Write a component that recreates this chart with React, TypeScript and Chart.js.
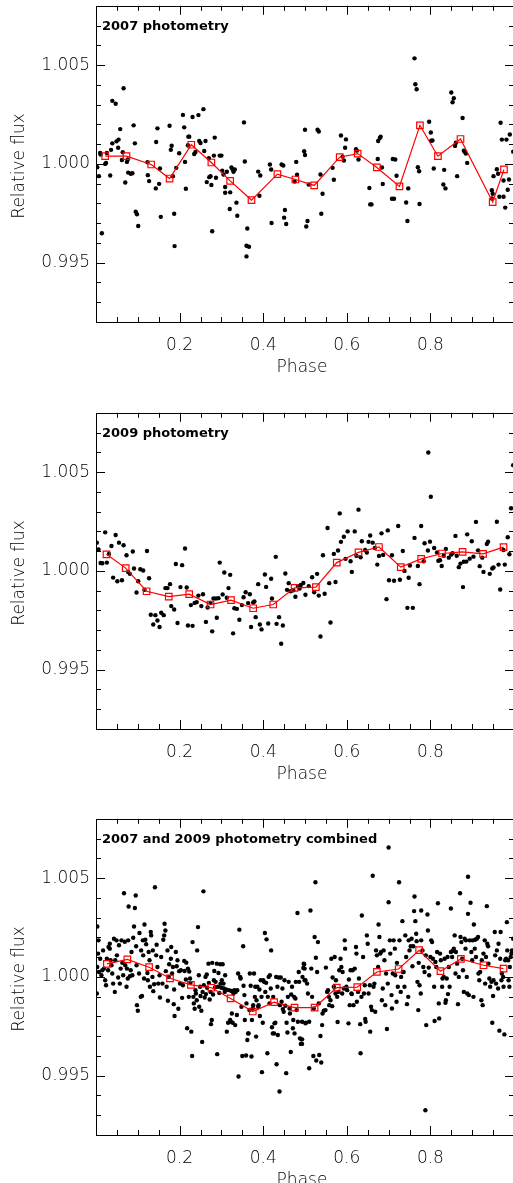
import React, { useEffect, useRef } from "react";
import { Chart, registerables } from "chart.js";

Chart.register(...registerables);

// ---------- data ----------
const phot2007: [number, number][] = [
[0.003,0.99983],[0.007,0.99938],[0.010,1.00055],[0.011,1.00047],[0.014,0.99649],[0.022,1.00000],[0.024,1.00005],[0.026,1.00055],[0.034,0.99941],[0.036,1.00071],[0.039,1.00104],[0.039,1.00319],[0.047,1.00304],[0.049,1.00114],[0.054,1.00123],[0.053,1.00082],[0.058,1.00176],[0.062,1.00020],[0.064,1.00059],[0.066,1.00383],[0.070,0.99906],[0.074,1.00010],[0.076,1.00022],[0.077,0.99956],[0.083,0.99950],[0.087,0.99953],[0.090,1.00195],[0.093,1.00104],[0.095,0.99758],[0.098,0.99745],[0.101,0.99686],[0.123,1.00008],[0.124,0.99943],[0.127,0.99913],[0.143,0.99876],[0.144,1.00111],[0.147,1.00180],[0.151,0.99899],[0.153,0.99977],[0.155,0.99732],[0.176,1.00193],[0.179,1.00071],[0.181,1.00092],[0.184,0.99938],[0.187,0.99748],[0.188,0.99584],[0.192,0.99980],[0.199,1.00054],[0.208,1.00248],[0.211,1.00185],[0.213,1.00010],[0.215,0.99874],[0.221,1.00138],[0.223,1.00138],[0.220,1.00094],[0.231,1.00237],[0.235,1.00050],[0.238,1.00060],[0.245,1.00247],[0.247,1.00116],[0.250,1.00106],[0.257,1.00277],[0.259,1.00065],[0.262,1.00116],[0.265,0.99908],[0.270,1.00029],[0.271,0.99933],[0.274,0.99938],[0.276,0.99893],[0.278,0.99659],[0.282,1.00042],[0.284,1.00133],[0.287,0.99930],[0.296,1.00042],[0.300,1.00042],[0.302,0.99966],[0.305,0.99946],[0.309,0.99883],[0.309,0.99854],[0.313,0.99960],[0.320,0.99772],[0.321,0.99856],[0.324,0.99982],[0.327,0.99972],[0.329,0.99960],[0.332,0.99972],[0.336,0.99804],[0.338,0.99738],[0.354,1.00210],[0.356,1.00012],[0.362,0.99673],[0.360,0.99586],[0.366,0.99581],[0.360,0.99532],[0.388,0.99961],[0.391,0.99839],[0.393,0.99941],[0.416,0.99997],[0.419,0.99972],[0.420,0.99701],[0.444,0.99997],[0.448,0.99992],[0.452,0.99767],[0.450,0.99728],[0.455,0.99696],[0.475,0.99911],[0.479,1.00010],[0.481,0.99945],[0.498,1.00064],[0.500,1.00045],[0.500,1.00173],[0.503,0.99683],
[0.506,0.99711],[0.509,0.99896],[0.530,1.00173],[0.533,1.00164],[0.537,0.99946],[0.539,0.99748],[0.542,0.99849],[0.566,0.99980],[0.569,0.99920],[0.586,1.00144],[0.590,1.00037],[0.593,1.00017],[0.596,1.00082],[0.598,1.00124],[0.622,1.00074],[0.624,1.00067],[0.628,1.00022],[0.654,0.99878],[0.656,0.99795],[0.659,0.99795],[0.674,1.00025],[0.675,1.00116],[0.679,1.00131],[0.681,1.00138],[0.684,0.99982],[0.686,0.99898],[0.710,1.00025],[0.716,1.00022],[0.708,0.99824],[0.713,0.99824],[0.719,0.99940],[0.742,0.99805],[0.745,0.99711],[0.747,0.99876],[0.762,1.00534],[0.764,1.00403],[0.767,1.00378],[0.770,0.99983],[0.773,0.99963],[0.774,0.99797],[0.797,1.00213],[0.801,1.00159],[0.802,1.00117],[0.805,1.00119],[0.808,0.99977],[0.831,0.99896],[0.836,0.99876],[0.833,0.99970],[0.850,1.00361],[0.856,1.00332],[0.853,1.00312],[0.859,1.00091],[0.861,1.00107],[0.864,0.99938],[0.877,1.00232],[0.880,1.00067],[0.883,1.00059],[0.885,1.00052],[0.888,1.00005],[0.947,0.99867],[0.949,0.99849],[0.947,0.99825],[0.951,0.99938],[0.959,0.99973],[0.962,0.99950],[0.965,0.99834],[0.975,0.99834],[0.968,1.00208],[0.971,1.00123],[0.975,0.99916],[0.979,0.99779],[0.982,1.00123],[0.985,0.99869],[0.988,0.99921],[0.990,1.00149],[0.998,1.00062]
];
const bins2007Phase = [0.022,0.073,0.132,0.176,0.228,0.276,0.321,0.372,0.434,0.477,0.522,0.583,0.626,0.672,0.726,0.775,0.818,0.872,0.949,0.976];
const bins2007Flux = [1.00039,1.00039,0.99997,0.99926,1.00097,1.00007,0.99914,0.99817,0.99948,0.99921,0.99891,1.00034,1.00052,0.99982,0.99886,1.00195,1.00039,1.00126,0.99807,0.99972];

const phot2009: [number, number][] = [
[0.002,1.00143],[0.006,1.00108],[0.011,1.00040],[0.015,1.00039],[0.022,1.00195],[0.026,1.00042],[0.031,1.00086],[0.037,1.00126],[0.041,0.99966],[0.047,1.00182],[0.051,0.99948],[0.055,1.00143],[0.062,0.99953],[0.066,1.00130],[0.073,1.00079],[0.077,0.99995],[0.081,0.99985],[0.088,1.00098],[0.091,1.00012],[0.097,0.99891],[0.101,0.99948],[0.106,1.00008],[0.113,1.00002],[0.116,0.99904],[0.122,1.00101],[0.127,0.99963],[0.131,0.99778],[0.137,0.99729],[0.142,0.99776],[0.147,0.99749],[0.152,0.99716],[0.156,0.99788],[0.162,0.99776],[0.166,0.99913],[0.171,0.99913],[0.177,0.99933],[0.180,0.99822],[0.187,0.99805],[0.191,1.00035],[0.195,0.99736],[0.206,1.00029],[0.202,0.99918],[0.213,1.00113],[0.217,0.99916],[0.220,0.99724],[0.227,0.99827],[0.231,0.99722],[0.236,0.99838],[0.241,0.99842],[0.245,0.99875],[0.252,0.99822],[0.256,0.99882],[0.263,0.99742],[0.267,0.99815],[0.274,0.99838],[0.278,0.99694],[0.281,0.99860],[0.287,0.99860],[0.293,0.99862],[0.289,0.99763],[0.296,1.00042],[0.303,0.99881],[0.307,0.99992],[0.313,0.99864],[0.317,0.99913],[0.321,0.99980],[0.328,0.99684],[0.331,0.99811],[0.337,0.99808],[0.343,0.99753],[0.349,0.99827],[0.353,0.99867],[0.358,0.99892],[0.364,0.99837],[0.368,0.99882],[0.371,0.99716],[0.376,0.99840],[0.379,0.99845],[0.382,0.99766],[0.388,0.99933],[0.392,0.99729],[0.396,0.99704],[0.404,0.99982],[0.407,0.99919],[0.412,0.99734],[0.419,0.99960],[0.421,0.99860],[0.430,1.00071],[0.432,0.99732],[0.438,0.99766],[0.443,0.99631],[0.447,0.99724],[0.453,0.99987],[0.457,0.99904],[0.461,0.99938],[0.466,0.99897],[0.472,0.99902],[0.477,0.99869],[0.483,0.99923],[0.487,0.99911],[0.490,0.99929],[0.496,0.99939],[0.501,0.99879],
[0.509,0.99923],[0.517,0.99968],[0.522,0.99892],[0.529,0.99985],[0.533,0.99875],[0.537,0.99668],[0.543,1.00079],[0.547,0.99884],[0.554,1.00217],[0.558,0.99938],[0.561,0.99739],[0.569,1.00086],[0.573,0.99944],[0.579,1.00103],[0.583,1.00291],[0.586,1.00147],[0.593,1.00173],[0.597,1.00061],[0.602,1.00200],[0.609,1.00049],[0.612,0.99995],[0.619,1.00200],[0.623,1.00077],[0.628,1.00310],[0.633,1.00069],[0.636,1.00150],[0.644,1.00106],[0.648,1.00093],[0.652,1.00147],[0.656,1.00179],[0.662,1.00143],[0.667,1.00116],[0.673,1.00032],[0.677,1.00076],[0.683,1.00190],[0.687,1.00081],[0.695,0.99857],[0.698,1.00205],[0.701,0.99953],[0.708,1.00079],[0.713,0.99950],[0.723,1.00227],[0.727,0.99955],[0.734,1.00101],[0.738,1.00000],[0.745,0.99813],[0.748,0.99965],[0.751,1.00027],[0.758,0.99813],[0.762,1.00167],[0.770,1.00025],[0.774,0.99933],[0.778,1.00227],[0.784,1.00049],[0.786,1.00140],[0.794,1.00103],[0.795,1.00599],[0.799,1.00148],[0.801,1.00375],[0.809,1.00116],[0.816,1.00093],[0.819,1.00051],[0.823,1.00054],[0.827,1.00025],[0.832,1.00077],[0.837,1.00111],[0.844,1.00067],[0.850,1.00083],[0.853,1.00089],[0.860,1.00177],[0.863,1.00077],[0.868,1.00019],[0.872,1.00037],[0.878,0.99918],[0.880,1.00046],[0.886,1.00047],[0.888,1.00185],[0.894,1.00062],[0.899,1.00150],[0.903,1.00072],[0.909,1.00248],[0.914,1.00104],[0.918,1.00024],[0.924,1.00067],[0.927,0.99995],[0.935,1.00136],[0.938,1.00148],[0.942,0.99985],[0.948,1.00012],[0.951,1.00017],[0.959,1.00249],[0.963,1.00032],[0.967,0.99906],[0.975,1.00106],[0.978,1.00032],[0.985,1.00170],[0.989,1.00084],[0.993,1.00317],[0.998,1.00535]
];
const bins2009Phase = [0.025,0.071,0.121,0.174,0.223,0.274,0.323,0.376,0.424,0.475,0.526,0.576,0.628,0.677,0.729,0.778,0.828,0.877,0.926,0.975];
const bins2009Flux = [1.00084,1.00014,0.99897,0.99870,0.99882,0.99830,0.99852,0.99811,0.99830,0.99914,0.99918,1.00042,1.00094,1.00121,1.00019,1.00061,1.00088,1.00096,1.00086,1.00120];

const photCombined: [number, number][] = [
[0.003,1.00255],[0.006,1.00185],[0.005,1.00118],[0.003,1.00050],[0.007,1.00025],[0.002,0.99916],[0.010,1.00092],[0.013,1.00008],[0.015,1.00034],[0.017,1.00134],[0.019,1.00042],[0.022,0.99983],[0.024,0.99958],[0.026,1.00092],[0.029,1.00034],[0.030,1.00151],[0.033,1.00168],[0.033,1.00143],[0.035,1.00084],[0.037,1.00059],[0.039,1.00017],[0.041,0.99966],[0.043,1.00193],[0.045,0.99924],[0.046,1.00084],[0.049,1.00185],[0.050,1.00109],[0.053,0.99997],[0.055,1.00160],[0.057,0.99966],[0.059,1.00042],[0.061,1.00185],[0.063,1.00071],[0.065,1.00008],[0.067,1.00423],[0.069,1.00178],[0.070,1.00059],[0.073,0.99950],[0.074,1.00042],[0.076,0.99992],[0.077,1.00185],[0.078,1.00356],[0.081,1.00003],[0.083,1.00034],[0.085,1.00126],[0.087,1.00008],[0.089,1.00198],[0.091,1.00255],[0.093,1.00349],[0.095,1.00412],[0.096,1.00155],[0.097,1.00059],[0.098,0.99857],[0.100,0.99829],[0.103,1.00017],[0.104,1.00222],[0.107,0.99899],[0.108,1.00134],[0.110,0.99903],[0.112,1.00185],[0.113,1.00109],[0.115,0.99992],[0.116,1.00265],[0.118,1.00188],[0.120,1.00165],[0.123,1.00020],[0.124,0.99983],[0.126,1.00126],[0.128,1.00084],[0.129,0.99950],[0.131,1.00227],[0.132,1.00210],[0.135,1.00000],[0.136,1.00134],[0.137,0.99928],[0.139,0.99963],[0.141,1.00454],[0.144,1.00109],[0.145,1.00163],[0.147,1.00050],[0.149,0.99966],[0.152,1.00008],[0.153,0.99896],[0.156,1.00101],[0.159,0.99966],[0.161,1.00188],[0.163,1.00210],[0.164,1.00269],[0.166,1.00235],[0.167,1.00029],[0.169,0.99950],[0.171,1.00134],[0.172,0.99879],[0.174,1.00000],[0.175,1.00064],[0.179,1.00092],[0.180,1.00151],[0.182,1.00017],[0.184,1.00050],[0.186,0.99862],[0.187,0.99936],[0.188,0.99802],[0.191,1.00126],[0.193,1.00054],[0.195,1.00084],[0.197,0.99839],[0.199,1.00029],[0.201,0.99966],[0.203,1.00034],[0.206,0.99894],[0.208,0.99958],[0.211,1.00081],[0.212,1.00030],[0.215,0.99987],[0.216,1.00072],[0.218,0.99740],[0.220,1.00042],[0.222,0.99899],[0.223,1.00027],[0.225,0.99992],[0.226,0.99970],[0.228,0.99723],[0.230,0.99600],[0.231,1.00176],[0.233,0.99899],[0.234,0.99866],[0.236,0.99839],[0.238,0.99933],[0.239,0.99916],[0.241,0.99882],[0.242,1.00134],[0.244,1.00252],[0.246,1.00008],[0.247,0.99849],[0.249,0.99950],[0.250,0.99903],[0.252,0.99829],[0.254,0.99671],[0.255,0.99924],[0.257,1.00433],[0.258,0.99958],[0.260,0.99896],[0.262,1.00000],[0.263,0.99913],[0.265,1.00012],[0.266,0.99945],[0.269,1.00067],[0.270,0.99970],[0.272,0.99886],[0.274,0.99924],[0.275,0.99761],[0.277,0.99782],[0.278,1.00071],[0.280,0.99911],[0.282,0.99983],[0.283,1.00030],[0.285,0.99948],[0.286,0.99975],[0.289,1.00067],[0.290,0.99609],[0.292,0.99950],[0.293,1.00020],[0.295,0.99919],[0.297,1.00064],[0.298,0.99966],[0.300,0.99945],[0.301,0.99983],[0.303,1.00064],[0.305,0.99966],[0.306,0.99941],[0.308,0.99924],[0.309,1.00008],[0.311,0.99936],[0.313,0.99723],[0.316,0.99768],[0.318,0.99933],[0.321,0.99782],[0.322,0.99773],[0.324,0.99929],[0.325,0.99815],[0.327,0.99768],[0.329,0.99916],[0.331,0.99933],[0.333,0.99756],[0.334,0.99924],[0.337,0.99807],[0.338,0.99933],[0.340,1.00017],[0.341,0.99496],[0.343,1.00239],[0.345,1.00000],[0.346,0.99992],[0.348,0.99849],[0.350,0.99600],[0.352,1.00155],[0.353,0.99955],[0.355,0.99908],[0.356,0.99782],[0.359,0.99602],[0.360,0.99866],[0.362,0.99681],[0.364,0.99714],[0.365,0.99714],[0.367,0.99832],[0.368,1.00017],[0.370,0.99955],[0.372,0.99597],[0.373,0.99782],[0.375,0.99840],[0.376,0.99857],[0.378,1.00017],[0.380,0.99899],[0.381,0.99950],[0.383,0.99698],[0.384,0.99882],[0.386,0.99950],[0.388,0.99849],[0.389,0.99857],[0.391,0.99936],[0.392,0.99802],[0.394,0.99983],[0.396,0.99899],[0.397,0.99518],[0.399,0.99768],[0.400,0.99983],[0.402,0.99975],[0.404,1.00222],[0.405,0.99924],[0.407,0.99970],[0.408,1.00190],[0.410,0.99614],[0.411,0.99899],[0.413,1.00000],[0.415,0.99866],[0.416,1.00008],[0.418,0.99941],[0.419,1.00134],[0.421,0.99745],[0.423,0.99714],[0.424,0.99899],[0.426,0.99714],[0.427,0.99765],[0.429,0.99768],[0.431,1.00000],[0.432,0.99558],[0.434,0.99950],[0.435,0.99706],[0.437,0.99997],[0.439,0.99420],[0.440,0.99857],[0.442,0.99997],[0.444,0.99874],[0.446,0.99941],[0.447,0.99837],[0.449,0.99824],[0.451,0.99983],[0.453,0.99854],[0.455,0.99513],[0.456,0.99768],[0.458,0.99719],[0.459,0.99899],[0.461,0.99975],[0.463,0.99840],[0.464,0.99815],[0.466,0.99620],[0.467,0.99911],[0.469,0.99950],[0.471,0.99740],[0.472,0.99782],[0.474,0.99899],[0.475,0.99714],[0.477,0.99891],[0.478,0.99975],[0.480,0.99832],[0.482,1.00323],[0.483,0.99773],[0.485,1.00025],[0.486,0.99975],[0.488,0.99689],[0.490,0.99661],[0.491,0.99684],[0.493,0.99773],[0.494,1.00000],[0.496,1.00045],[0.498,1.00064],[0.499,0.99983],[0.501,0.99765],
[0.493,0.99684],[0.493,0.99661],[0.497,1.00067],[0.499,1.00042],[0.501,0.99983],[0.502,0.99768],[0.505,0.99966],[0.507,0.99916],[0.510,0.99773],[0.513,1.00336],[0.515,1.00042],[0.517,0.99899],[0.520,0.99600],[0.521,0.99840],[0.525,1.00479],[0.523,1.00202],[0.526,1.00097],[0.529,1.00025],[0.531,1.00176],[0.533,0.99866],[0.534,0.99605],[0.537,0.99701],[0.539,0.99567],[0.541,0.99756],[0.510,0.99538],[0.527,0.99577],[0.542,0.99815],[0.545,0.99829],[0.549,0.99832],[0.550,1.00047],[0.553,0.99924],[0.555,0.99933],[0.557,0.99899],[0.558,0.99857],[0.561,0.99882],[0.563,1.00092],[0.565,0.99852],[0.566,0.99997],[0.569,0.99950],[0.571,1.00101],[0.573,0.99916],[0.574,0.99983],[0.577,0.99899],[0.578,0.99772],[0.580,0.99924],[0.582,1.00034],[0.585,1.00092],[0.587,1.00050],[0.589,0.99916],[0.590,1.00025],[0.593,0.99941],[0.595,1.00185],[0.596,1.00143],[0.599,0.99950],[0.601,0.99933],[0.604,0.99765],[0.605,0.99987],[0.607,0.99857],[0.609,1.00034],[0.611,0.99916],[0.612,0.99913],[0.614,1.00034],[0.616,0.99857],[0.619,1.00042],[0.622,1.00151],[0.623,1.00118],[0.624,0.99874],[0.627,0.99924],[0.629,0.99992],[0.632,0.99761],[0.633,0.99614],[0.635,0.99899],[0.636,1.00311],[0.639,1.00101],[0.641,0.99916],[0.643,0.99958],[0.644,0.99787],[0.645,0.99773],[0.648,1.00210],[0.650,1.00168],[0.652,0.99916],[0.655,0.99958],[0.656,0.99723],[0.658,0.99849],[0.660,0.99832],[0.662,1.00512],[0.664,0.99950],[0.666,0.99966],[0.668,0.99824],[0.670,1.00134],[0.672,1.00109],[0.675,1.00050],[0.676,1.00265],[0.678,1.00202],[0.680,1.00118],[0.682,1.00126],[0.684,0.99882],[0.686,0.99941],[0.688,1.00134],[0.690,1.00084],[0.692,0.99857],[0.694,1.00017],[0.696,0.99736],[0.698,0.99966],[0.700,1.00378],[0.700,1.00655],[0.703,1.00185],[0.704,1.00118],[0.707,0.99908],[0.708,0.99840],[0.710,1.00017],[0.712,1.00185],[0.715,1.00143],[0.716,1.00008],[0.719,0.99874],[0.720,1.00071],[0.722,0.99950],[0.725,1.00479],[0.726,1.00185],[0.729,0.99924],[0.730,1.00000],[0.733,1.00282],[0.734,1.00025],[0.736,1.00025],[0.738,0.99950],[0.740,1.00210],[0.742,1.00101],[0.744,0.99862],[0.747,0.99899],[0.748,1.00185],[0.750,1.00134],[0.753,1.00155],[0.755,1.00193],[0.757,1.00054],[0.759,1.00155],[0.761,1.00333],[0.762,1.00407],[0.764,1.00282],[0.766,1.00218],[0.767,1.00181],[0.769,0.99975],[0.771,0.99832],[0.772,1.00071],[0.774,0.99958],[0.777,0.99916],[0.778,1.00336],[0.778,1.00185],[0.781,1.00134],[0.783,1.00050],[0.786,1.00025],[0.788,0.99325],[0.789,1.00109],[0.790,0.99756],[0.793,1.00316],[0.794,1.00235],[0.796,1.00047],[0.797,1.00008],[0.800,1.00101],[0.802,1.00185],[0.804,1.00176],[0.806,1.00092],[0.809,0.99950],[0.810,0.99777],[0.812,1.00076],[0.814,1.00050],[0.816,1.00126],[0.818,1.00373],[0.820,0.99866],[0.821,0.99790],[0.823,1.00118],[0.825,1.00084],[0.828,0.99950],[0.829,0.99992],[0.832,1.00000],[0.834,1.00092],[0.836,0.99869],[0.837,0.99882],[0.839,0.99992],[0.841,1.00101],[0.842,0.99913],[0.844,1.00050],[0.846,0.99950],[0.849,1.00126],[0.849,1.00346],[0.852,1.00101],[0.853,1.00131],[0.856,1.00143],[0.858,1.00210],[0.860,1.00017],[0.861,1.00126],[0.864,1.00067],[0.866,0.99862],[0.868,1.00000],[0.871,1.00423],[0.872,1.00202],[0.874,1.00176],[0.876,1.00092],[0.878,1.00034],[0.880,0.99924],[0.882,1.00193],[0.884,1.00143],[0.885,1.00185],[0.887,1.00000],[0.888,0.99916],[0.890,1.00319],[0.890,1.00507],[0.892,0.99908],[0.894,1.00185],[0.896,1.00375],[0.898,1.00126],[0.900,1.00084],[0.901,1.00185],[0.903,0.99899],[0.904,1.00265],[0.906,1.00143],[0.907,1.00188],[0.909,1.00101],[0.911,1.00193],[0.914,1.00202],[0.915,1.00017],[0.917,0.99983],[0.919,1.00025],[0.922,0.99882],[0.923,1.00084],[0.925,0.99857],[0.927,1.00118],[0.930,1.00185],[0.931,0.99966],[0.933,1.00101],[0.935,1.00358],[0.936,1.00168],[0.938,1.00155],[0.939,1.00067],[0.941,0.99992],[0.943,0.99950],[0.946,0.99975],[0.948,0.99768],[0.950,0.99903],[0.951,0.99983],[0.954,1.00227],[0.955,1.00109],[0.957,0.99966],[0.959,1.00134],[0.962,0.99941],[0.963,1.00168],[0.965,0.99728],[0.967,1.00092],[0.968,1.00227],[0.970,0.99983],[0.971,1.00017],[0.974,1.00000],[0.975,0.99950],[0.977,0.99709],[0.979,1.00084],[0.981,1.00092],[0.983,1.00277],[0.984,1.00134],[0.986,1.00084],[0.987,0.99983],[0.989,0.99950],[0.990,1.00050],[0.992,1.00101],[0.994,1.00118],[0.995,1.00134],[0.998,1.00193]
];
const binsCombPhase = [0.026,0.075,0.127,0.177,0.227,0.276,0.322,0.375,0.426,0.475,0.523,0.576,0.625,0.672,0.724,0.773,0.824,0.873,0.927,0.975];
const binsCombFlux = [1.00066,1.00089,1.00049,0.99993,0.99960,0.99945,0.99891,0.99825,0.99872,0.99845,0.99845,0.99946,0.99948,1.00025,1.00040,1.00135,1.00029,1.00091,1.00059,1.00042];

const panelTitles = ["2007 photometry", "2009 photometry", "2007 and 2009 photometry combined"];
const phaseTickLabels = ["0.2", "0.4", "0.6", "0.8"];
const fluxTickLabels = ["0.995", "1.000", "1.005"];
const xAxisTitle = "Phase";
const yAxisTitle = "Relative flux";

// ---------- layout ----------
const CANVAS_W = 520;
const CANVAS_H = 400;
const PAD = { left: 96, right: 6, top: 5, bottom: 78 };
const panelTops = [0, 407, 813];
const FONT = "'DejaVu Sans', 'Liberation Sans', sans-serif";

const framePlugin = {
  id: "idlFrame",
  afterDraw(chart: any, _args: any, opts: any) {
    const { ctx, chartArea: a, scales } = chart;
    const xs = scales.x;
    const ys = scales.y;
    ctx.save();
    ctx.strokeStyle = "#000";
    ctx.lineWidth = 1;
    ctx.strokeRect(Math.round(a.left) + 0.5, Math.round(a.top) + 0.5, Math.round(a.right - a.left), Math.round(a.bottom - a.top));
    ctx.beginPath();
    for (let i = 1; i < 20; i++) {
      const v = i * 0.05;
      const major = i % 4 === 0;
      const len = major ? 9 : 5;
      const px = Math.round(xs.getPixelForValue(v)) + 0.5;
      ctx.moveTo(px, a.bottom);
      ctx.lineTo(px, a.bottom - len);
      ctx.moveTo(px, a.top);
      ctx.lineTo(px, a.top + len);
    }
    for (let k = 993; k <= 1007; k++) {
      const v = k / 1000;
      const major = k % 5 === 0;
      const len = major ? 9 : 5;
      const py = Math.round(ys.getPixelForValue(v)) + 0.5;
      ctx.moveTo(a.left, py);
      ctx.lineTo(a.left + len, py);
      ctx.moveTo(a.right, py);
      ctx.lineTo(a.right - len, py);
    }
    ctx.stroke();

    ctx.fillStyle = "#000";
    ctx.font = `200 17px ${FONT}`;
    ctx.textAlign = "center";
    ctx.textBaseline = "alphabetic";
    phaseTickLabels.forEach((t) => {
      ctx.fillText(t, xs.getPixelForValue(parseFloat(t)), a.bottom + 28);
    });
    ctx.textAlign = "right";
    ctx.textBaseline = "middle";
    fluxTickLabels.forEach((t) => {
      ctx.fillText(t, a.left - 6, ys.getPixelForValue(parseFloat(t)));
    });
    ctx.textAlign = "center";
    ctx.textBaseline = "alphabetic";
    ctx.fillText(xAxisTitle, (a.left + a.right) / 2 - 3, a.bottom + 50);
    ctx.save();
    ctx.translate(24, (a.top + a.bottom) / 2 + 2);
    ctx.rotate(-Math.PI / 2);
    ctx.fillText(yAxisTitle, 0, 0);
    ctx.restore();
    ctx.fillStyle = "#000";
    ctx.font = `bold 13px ${FONT}`;
    ctx.textAlign = "left";
    ctx.fillText(opts.title, a.left + 6, a.top + 24);
    ctx.restore();
  },
};

function Panel({ points, binPhase, binFlux, title, top }: { points: [number, number][]; binPhase: number[]; binFlux: number[]; title: string; top: number }) {
  const ref = useRef<HTMLCanvasElement>(null);
  useEffect(() => {
    if (!ref.current) return;
    const chart = new Chart(ref.current, {
      type: "scatter",
      data: {
        datasets: [
          {
            type: "line",
            data: binPhase.map((p, i) => ({ x: p, y: binFlux[i] })),
            borderColor: "#ff0000",
            borderWidth: 1.2,
            pointStyle: "rect",
            pointRadius: 4.6,
            pointBorderColor: "#ff0000",
            pointBackgroundColor: "rgba(255,255,255,0)",
            pointBorderWidth: 1.2,
            tension: 0,
            fill: false,
            order: 1,
          } as any,
          {
            type: "scatter",
            data: points.map(([x, y]) => ({ x, y })),
            pointRadius: 2.2,
            pointBackgroundColor: "#000",
            pointBorderWidth: 0,
            order: 2,
          } as any,
        ],
      },
      options: {
        animation: false,
        responsive: false,
        maintainAspectRatio: false,
        events: [],
        layout: { padding: PAD },
        scales: {
          x: { type: "linear", min: 0, max: 1, display: false },
          y: { type: "linear", min: 0.992, max: 1.008, display: false },
        },
        plugins: {
          legend: { display: false },
          tooltip: { enabled: false },
          idlFrame: { title },
        } as any,
      },
      plugins: [framePlugin],
    });
    return () => chart.destroy();
  }, [points, binPhase, binFlux, title]);
  return (
    <canvas
      ref={ref}
      width={CANVAS_W}
      height={CANVAS_H}
      style={{ position: "absolute", left: 0, top, width: CANVAS_W, height: CANVAS_H, display: "block" }}
    />
  );
}

export default function App() {
  return (
    <div style={{ position: "absolute", left: 0, top: 0, width: 513, height: 1183, overflow: "hidden", background: "#fff" }}>
      <Panel points={phot2007} binPhase={bins2007Phase} binFlux={bins2007Flux} title={panelTitles[0]} top={panelTops[0]} />
      <Panel points={phot2009} binPhase={bins2009Phase} binFlux={bins2009Flux} title={panelTitles[1]} top={panelTops[1]} />
      <Panel points={photCombined} binPhase={binsCombPhase} binFlux={binsCombFlux} title={panelTitles[2]} top={panelTops[2]} />
    </div>
  );
}
